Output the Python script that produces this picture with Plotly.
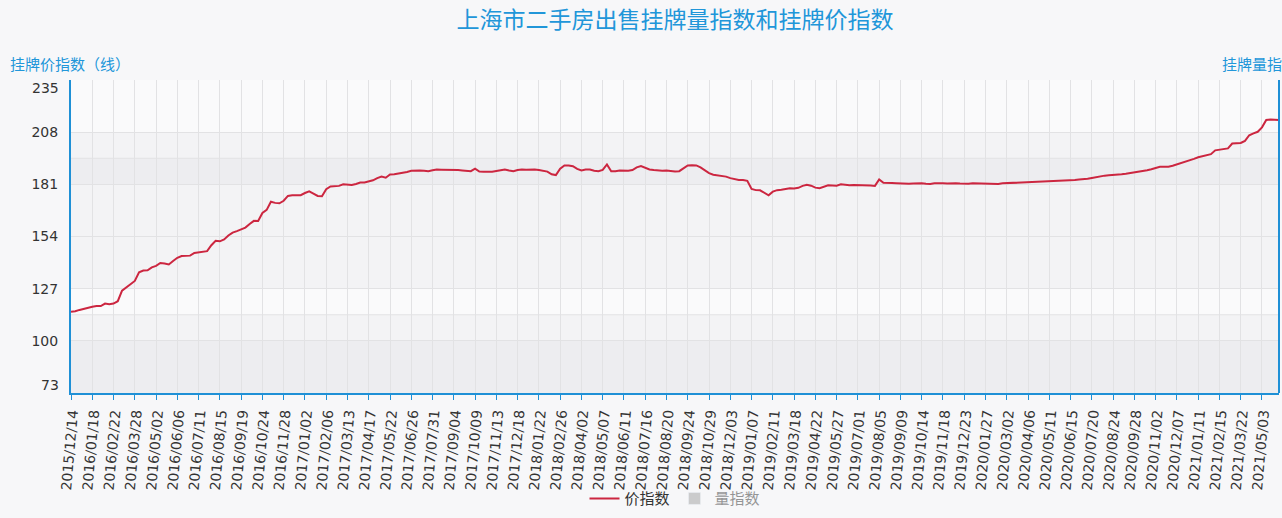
import pandas as pd
import plotly.graph_objects as go

# ---- data -------------------------------------------------------------
TITLE = "上海市二手房出售挂牌量指数和挂牌价指数"
LEFT_AXIS_TITLE = "挂牌价指数（线）"
RIGHT_AXIS_TITLE = "挂牌量指数"
SERIES_PRICE = "价指数"
SERIES_VOLUME = "量指数"

# weekly observation dates (one week missing in April 2021)
_all_weeks = pd.date_range("2015-12-14", "2021-05-31", freq="7D")
DATES = [d.strftime("%Y/%m/%d") for d in _all_weeks if d.strftime("%Y/%m/%d") != "2021/04/05"]

TICK_LABELS = [
    "2015/12/14", "2016/01/18", "2016/02/22", "2016/03/28", "2016/05/02", "2016/06/06",
    "2016/07/11", "2016/08/15", "2016/09/19", "2016/10/24", "2016/11/28", "2017/01/02",
    "2017/02/06", "2017/03/13", "2017/04/17", "2017/05/22", "2017/06/26", "2017/07/31",
    "2017/09/04", "2017/10/09", "2017/11/13", "2017/12/18", "2018/01/22", "2018/02/26",
    "2018/04/02", "2018/05/07", "2018/06/11", "2018/07/16", "2018/08/20", "2018/09/24",
    "2018/10/29", "2018/12/03", "2019/01/07", "2019/02/11", "2019/03/18", "2019/04/22",
    "2019/05/27", "2019/07/01", "2019/08/05", "2019/09/09", "2019/10/14", "2019/11/18",
    "2019/12/23", "2020/01/27", "2020/03/02", "2020/04/06", "2020/05/11", "2020/06/15",
    "2020/07/20", "2020/08/24", "2020/09/28", "2020/11/02", "2020/12/07", "2021/01/11",
    "2021/02/15", "2021/03/22", "2021/05/03",
]

PRICE_INDEX = [
    115.0, 115.3, 116.0, 116.6, 117.2, 117.6, 118.0, 118.0, 119.3, 119.0,
    119.3, 120.5, 126.0, 127.6, 129.5, 131.0, 135.5, 136.4, 136.5, 138.0,
    138.8, 140.3, 140.0, 139.5, 141.3, 143.0, 143.9, 144.1, 144.1, 145.5,
    145.8, 146.0, 146.4, 149.5, 151.8, 151.5, 152.5, 154.5, 156.0, 156.8,
    157.8, 158.6, 160.5, 162.1, 162.0, 166.2, 167.8, 172.0, 171.4, 171.2,
    172.5, 175.0, 175.3, 175.3, 175.4, 176.5, 177.4, 176.2, 175.0, 174.8,
    178.5, 179.9, 180.1, 180.2, 181.0, 180.8, 180.7, 181.2, 181.9, 182.0,
    182.6, 183.1, 184.2, 185.0, 184.4, 186.1, 186.2, 186.5, 186.8, 187.4,
    188.0, 188.2, 188.1, 188.0, 187.8, 188.3, 188.7, 188.6, 188.6, 188.5,
    188.4, 188.4, 188.2, 188.0, 187.8, 189.1, 187.6, 187.5, 187.4, 187.5,
    187.9, 188.4, 188.7, 188.2, 187.8, 188.4, 188.7, 188.6, 188.7, 188.7,
    188.4, 188.0, 187.6, 186.2, 185.8, 189.1, 190.8, 190.8, 190.4, 189.0,
    188.2, 188.7, 188.7, 188.0, 187.8, 188.5, 191.3, 187.8, 187.8, 188.2,
    188.2, 188.0, 188.4, 189.8, 190.5, 189.6, 188.7, 188.4, 188.2, 188.0,
    188.2, 187.9, 187.6, 187.8, 189.5, 190.8, 190.9, 190.8, 189.8, 188.4,
    186.8, 186.0, 185.7, 185.6, 185.0, 184.2, 183.6, 183.3, 183.2, 182.8,
    178.6, 178.0, 177.9, 176.5, 175.3, 177.2, 178.0, 178.2, 178.6, 179.0,
    178.9, 179.2, 180.2, 180.8, 180.3, 179.3, 179.0, 179.8, 180.5, 180.4,
    180.3, 181.0, 180.6, 180.5, 180.6, 180.6, 180.5, 180.6, 180.4, 180.2,
    183.5, 181.8, 181.6, 181.7, 181.6, 181.4, 181.3, 181.3, 181.4, 181.5,
    181.6, 181.3, 181.2, 181.5, 181.6, 181.5, 181.4, 181.6, 181.5, 181.4,
    181.2, 181.3, 181.6, 181.5, 181.4, 181.3, 181.1, 181.0, 181.2, 181.5,
    181.6, 181.8, 181.9, 182.0, 182.1, 182.2, 182.2, 182.3, 182.3, 182.4,
    182.6, 182.6, 182.7, 182.8, 182.8, 183.1, 183.3, 183.5, 183.6, 183.9,
    184.3, 184.8, 185.2, 185.5, 185.7, 185.8, 186.0, 186.2, 186.5, 186.8,
    187.1, 187.5, 188.0, 188.3, 188.8, 189.4, 190.1, 190.1, 190.1, 190.6,
    191.3, 191.8, 192.4, 193.3, 194.2, 195.0, 195.6, 196.1, 196.6, 198.6,
    198.9, 199.2, 199.6, 202.1, 202.3, 202.4, 203.5, 206.4, 207.4, 208.2,
    210.5, 214.3, 214.5, 214.4, 214.3,
]

# the listing-volume series is switched off in the legend (no values shown)
VOLUME_INDEX = [None] * len(DATES)

Y_TICKS = [73, 100, 127, 154, 181, 208, 235]

# ---- style ------------------------------------------------------------
BLUE = "#1f90d6"
TITLE_BLUE = "#2196d9"
RED = "#cc2640"
TEXT = "#333333"
GRID = "#e2e2e4"
BAND = "rgba(195,195,202,0.12)"
CJK = "Noto Sans CJK SC"
LAT = "DejaVu Sans"

fig = go.Figure()
fig.add_trace(go.Scatter(
    x=DATES, y=PRICE_INDEX, mode="lines", name=SERIES_PRICE,
    line=dict(color=RED, width=2),
))
fig.add_trace(go.Bar(
    x=DATES, y=VOLUME_INDEX, name=SERIES_VOLUME, marker_color="#a0a0a0",
    visible="legendonly",
))

shapes = []
# split-area bands of the left axis
for lo, hi in [(181, 208), (127, 154), (73, 100)]:
    shapes.append(dict(type="rect", xref="paper", yref="y", x0=0, x1=1, y0=lo, y1=hi,
                       fillcolor=BAND, line_width=0, layer="below"))
# split-area bands and lines of the hidden right axis
for lo, hi in [(0.5, 0.75), (0.0, 0.25)]:
    shapes.append(dict(type="rect", xref="paper", yref="paper", x0=0, x1=1, y0=lo, y1=hi,
                       fillcolor=BAND, line_width=0, layer="below"))
for yy in [0.25, 0.75]:
    shapes.append(dict(type="line", xref="paper", yref="paper", x0=0, x1=1, y0=yy, y1=yy,
                       line=dict(color=GRID, width=1), layer="below"))
# right axis line
shapes.append(dict(type="line", xref="paper", yref="paper", x0=1, x1=1, y0=0, y1=1,
                   line=dict(color=BLUE, width=2), layer="above"))

annotations = [
    dict(text=LEFT_AXIS_TITLE, xref="paper", yref="paper", x=-63 / 1208, y=(395 - 63) / 315,
         xanchor="left", yanchor="middle", showarrow=False,
         font=dict(family=CJK, size=15, color=TITLE_BLUE)),
    dict(text=RIGHT_AXIS_TITLE, xref="paper", yref="paper", x=(1220 - 71) / 1208, y=(395 - 63) / 315,
         xanchor="left", yanchor="middle", showarrow=False,
         font=dict(family=CJK, size=15, color=TITLE_BLUE)),
    dict(text=str(Y_TICKS[-1]), xref="paper", yref="y", x=0, y=Y_TICKS[-1], xanchor="right",
         yanchor="middle", xshift=-10, yshift=-8, showarrow=False,
         font=dict(family=LAT, size=14, color=TEXT)),
    dict(text=str(Y_TICKS[0]), xref="paper", yref="y", x=0, y=Y_TICKS[0], xanchor="right",
         yanchor="middle", xshift=-10, yshift=8, showarrow=False,
         font=dict(family=LAT, size=14, color=TEXT)),
]

fig.update_layout(
    width=1282, height=518,
    margin=dict(l=71, r=3, t=80, b=123),
    paper_bgcolor="#f7f7f9",
    plot_bgcolor="#fafafb",
    title=dict(text=TITLE, x=0.5, xref="paper", xanchor="center", y=1 - 20 / 518, yanchor="middle",
               font=dict(family=CJK, size=23, color=TITLE_BLUE)),
    showlegend=True,
    legend=dict(orientation="h", x=0.5, xanchor="center", y=-(518 - 395) / 315, yanchor="bottom",
                font=dict(family=CJK, size=15, color=TEXT), bgcolor="rgba(0,0,0,0)",
                itemwidth=30),
    shapes=shapes,
    annotations=annotations,
    bargap=0.2,
)

fig.update_xaxes(
    type="category", categoryorder="array", categoryarray=DATES,
    range=[0, len(DATES) - 1],
    tickmode="array", tickvals=TICK_LABELS, ticktext=TICK_LABELS,
    tickangle=-85, tickfont=dict(family=LAT, size=14, color=TEXT),
    showline=True, linecolor=BLUE, linewidth=2,
    ticks="outside", tickcolor=BLUE, ticklen=5, tickwidth=1,
    showgrid=True, gridcolor=GRID, gridwidth=1, zeroline=False,
)
fig.update_yaxes(
    range=[Y_TICKS[0], Y_TICKS[-1]],
    tickmode="array", tickvals=Y_TICKS,
    ticktext=[""] + [str(v) for v in Y_TICKS[1:-1]] + [""],
    tickfont=dict(family=LAT, size=14, color=TEXT),
    showline=True, linecolor=BLUE, linewidth=2, ticks="",
    ticklabelstandoff=8,
    showgrid=True, gridcolor=GRID, gridwidth=1, zeroline=False,
)

fig.write_html(
    "out.html",
    config={"displayModeBar": False},
    post_script="document.body.style.margin='0';document.body.style.padding='0';"
                "document.body.style.background='#f7f7f9';",
)
